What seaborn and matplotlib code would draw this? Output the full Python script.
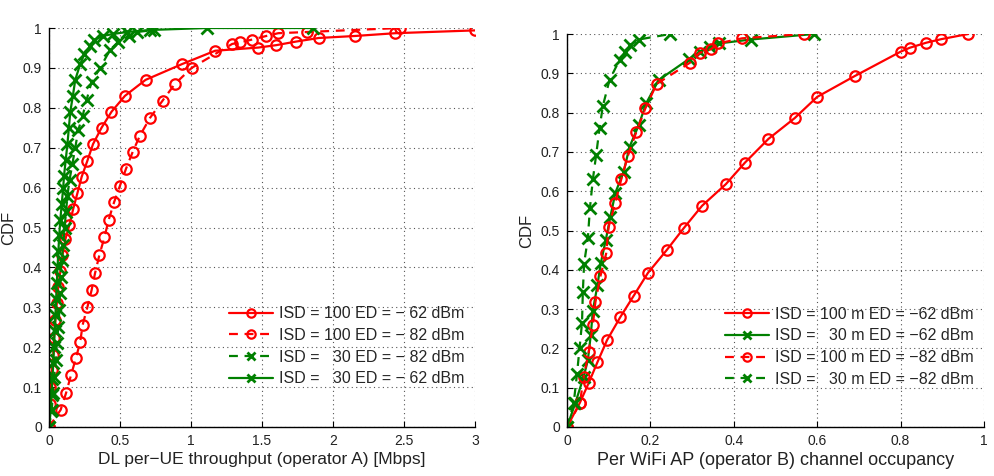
import matplotlib
matplotlib.use("Agg")
import matplotlib.pyplot as plt
import seaborn as sns
import pandas as pd

# ---------------- data: left panel (DL per-UE throughput, Mbps) ----------------
left_r62_x = [0, 0.005, 0.01, 0.02, 0.03, 0.035, 0.045, 0.055, 0.065, 0.08, 0.095, 0.115,
              0.143, 0.17, 0.20, 0.23, 0.27, 0.31, 0.37, 0.44, 0.535, 0.68, 0.94, 1.17,
              1.475, 1.60, 1.74, 1.90, 2.155, 2.44, 3.0]
left_r62_y = [0, 0.058, 0.10, 0.143, 0.18, 0.224, 0.267, 0.31, 0.35, 0.39, 0.43, 0.47,
              0.506, 0.546, 0.586, 0.627, 0.667, 0.709, 0.75, 0.79, 0.83, 0.87, 0.91, 0.943,
              0.951, 0.957, 0.966, 0.975, 0.98, 0.987, 0.994]

left_r82_x = [0, 0.082, 0.12, 0.155, 0.19, 0.22, 0.237, 0.27, 0.30, 0.324, 0.354, 0.39,
              0.42, 0.458, 0.50, 0.542, 0.59, 0.64, 0.71, 0.80, 0.887, 1.005, 1.29, 1.345,
              1.43, 1.53, 1.615, 1.82, 2.47]
left_r82_y = [0, 0.043, 0.085, 0.13, 0.173, 0.214, 0.256, 0.30, 0.343, 0.385, 0.43, 0.475,
              0.519, 0.563, 0.605, 0.647, 0.69, 0.73, 0.774, 0.818, 0.86, 0.90, 0.96, 0.964,
              0.971, 0.98, 0.987, 0.99, 1.0]

left_g82_x = [0, 0.02, 0.027, 0.035, 0.05, 0.054, 0.066, 0.073, 0.077, 0.082, 0.089, 0.10,
              0.11, 0.12, 0.13, 0.145, 0.165, 0.185, 0.206, 0.237, 0.265, 0.30, 0.36, 0.43,
              0.486, 0.56, 0.62, 0.74]
left_g82_y = [0, 0.043, 0.085, 0.126, 0.168, 0.21, 0.25, 0.293, 0.335, 0.377, 0.418, 0.456,
              0.50, 0.54, 0.58, 0.62, 0.66, 0.70, 0.744, 0.78, 0.82, 0.865, 0.90, 0.945,
              0.965, 0.98, 0.99, 0.995]

left_g62_x = [0, 0.012, 0.018, 0.024, 0.03, 0.035, 0.04, 0.045, 0.05, 0.055, 0.06, 0.066,
              0.072, 0.08, 0.09, 0.10, 0.106, 0.118, 0.13, 0.14, 0.15, 0.168, 0.185, 0.22,
              0.25, 0.29, 0.32, 0.38, 0.45, 0.55, 0.71, 1.11, 1.86]
left_g62_y = [0, 0.04, 0.08, 0.12, 0.16, 0.20, 0.24, 0.28, 0.32, 0.36, 0.40, 0.44,
              0.48, 0.52, 0.56, 0.60, 0.63, 0.67, 0.71, 0.75, 0.79, 0.83, 0.87, 0.91,
              0.935, 0.955, 0.97, 0.98, 0.985, 0.99, 0.995, 1.0, 1.0]

# ---------------- data: right panel (channel occupancy) ----------------
right_r62_x = [0, 0.031, 0.052, 0.073, 0.096, 0.128, 0.16, 0.194, 0.239, 0.28, 0.324, 0.381,
               0.427, 0.483, 0.546, 0.60, 0.69, 0.80, 0.822, 0.862, 0.898, 0.962]
right_r62_y = [0, 0.062, 0.112, 0.165, 0.221, 0.28, 0.334, 0.392, 0.45, 0.506, 0.563, 0.618,
               0.673, 0.733, 0.786, 0.84, 0.893, 0.955, 0.965, 0.978, 0.987, 1.0]

right_g62_x = [0, 0.02, 0.04, 0.05, 0.057, 0.062, 0.073, 0.081, 0.093, 0.104, 0.116, 0.136,
               0.15, 0.172, 0.19, 0.22, 0.292, 0.318, 0.342, 0.364, 0.441, 0.593]
right_g62_y = [0, 0.061, 0.128, 0.17, 0.234, 0.296, 0.361, 0.417, 0.476, 0.535, 0.596, 0.65,
               0.713, 0.768, 0.824, 0.883, 0.936, 0.955, 0.966, 0.976, 0.986, 1.0]

right_r82_x = [0, 0.031, 0.04, 0.052, 0.062, 0.068, 0.08, 0.094, 0.10, 0.116, 0.13, 0.146,
               0.166, 0.188, 0.215, 0.295, 0.318, 0.345, 0.362, 0.42, 0.569]
right_r82_y = [0, 0.06, 0.128, 0.19, 0.26, 0.317, 0.383, 0.442, 0.51, 0.571, 0.63, 0.69,
               0.75, 0.811, 0.873, 0.927, 0.952, 0.961, 0.976, 0.989, 1.0]

right_g82_x = [0, 0.016, 0.024, 0.03, 0.036, 0.038, 0.041, 0.05, 0.055, 0.062, 0.07, 0.078,
               0.086, 0.102, 0.126, 0.14, 0.152, 0.172, 0.248]
right_g82_y = [0, 0.06, 0.135, 0.20, 0.265, 0.344, 0.416, 0.48, 0.557, 0.63, 0.693, 0.76,
               0.817, 0.883, 0.934, 0.955, 0.972, 0.986, 1.0]

left_labels = ["ISD = 100 ED = \u2212 62 dBm", "ISD = 100 ED = \u2212 82 dBm",
               "ISD =   30 ED = \u2212 82 dBm", "ISD =   30 ED = \u2212 62 dBm"]
right_labels = ["ISD = 100 m ED = \u221262 dBm", "ISD =   30 m ED = \u221262 dBm",
                "ISD = 100 m ED = \u221282 dBm", "ISD =   30 m ED = \u221282 dBm"]

left_xticks = [0, 0.5, 1, 1.5, 2, 2.5, 3]
left_xticklabels = ["0", "0.5", "1", "1.5", "2", "2.5", "3"]
right_xticks = [0, 0.2, 0.4, 0.6, 0.8, 1]
right_xticklabels = ["0", "0.2", "0.4", "0.6", "0.8", "1"]
yticks = [0, 0.1, 0.2, 0.3, 0.4, 0.5, 0.6, 0.7, 0.8, 0.9, 1]
yticklabels = ["0", "0.1", "0.2", "0.3", "0.4", "0.5", "0.6", "0.7", "0.8", "0.9", "1"]

# ---------------- style ----------------
sns.set_style("white")
plt.rcParams["font.family"] = ["Liberation Sans", "DejaVu Sans"]
plt.rcParams["axes.unicode_minus"] = True

RED = "#ff0000"
GREEN = "#008000"

fig = plt.figure(figsize=(9.95, 4.76), dpi=100)
axL = fig.add_axes([49 / 995, 1 - 427 / 476, 426 / 995, 399 / 476])
axR = fig.add_axes([567 / 995, 1 - 427 / 476, 417 / 995, 393 / 476])


def draw(ax, x, y, color, marker, ls, label):
    df = pd.DataFrame({"x": x, "y": y})
    kw = dict(marker=marker, markersize=7.5 if marker == "o" else 8,
              markeredgewidth=1.6 if marker == "o" else 2.0,
              markeredgecolor=color,
              markerfacecolor="none" if marker == "o" else color)
    sns.lineplot(data=df, x="x", y="y", ax=ax, color=color, linestyle=ls,
                 linewidth=1.6, sort=False, estimator=None, label=label, **kw)


draw(axL, left_r62_x, left_r62_y, RED, "o", "-", left_labels[0])
draw(axL, left_r82_x, left_r82_y, RED, "o", (0, (4, 3)), left_labels[1])
draw(axL, left_g82_x, left_g82_y, GREEN, "x", (0, (4, 3)), left_labels[2])
draw(axL, left_g62_x, left_g62_y, GREEN, "x", "-", left_labels[3])

draw(axR, right_r62_x, right_r62_y, RED, "o", "-", right_labels[0])
draw(axR, right_g62_x, right_g62_y, GREEN, "x", "-", right_labels[1])
draw(axR, right_r82_x, right_r82_y, RED, "o", (0, (4, 3)), right_labels[2])
draw(axR, right_g82_x, right_g82_y, GREEN, "x", (0, (4, 3)), right_labels[3])


def style(ax, xlim, xticks, xticklabels, xlabel, xlabel_size, legend_anchor):
    ax.set_xlim(*xlim)
    ax.set_ylim(0, 1)
    ax.set_xticks(xticks)
    ax.set_xticklabels(xticklabels)
    ax.set_yticks(yticks)
    ax.set_yticklabels(yticklabels)
    ax.grid(True, color="#555555", linestyle=(0, (1, 3)), linewidth=0.8)
    for s in ["top", "right"]:
        ax.spines[s].set_visible(False)
    for s in ["left", "bottom"]:
        ax.spines[s].set_color("black")
        ax.spines[s].set_linewidth(1.0)
    ax.tick_params(direction="in", length=4, width=0.8, labelsize=10,
                   colors="black", labelcolor="#222222", bottom=True, left=True, pad=5)
    ax.set_xlabel(xlabel, fontsize=xlabel_size, color="#222222", labelpad=3)
    ax.set_ylabel("CDF", fontsize=12, color="#222222", labelpad=5)
    ax.legend(loc="lower right", bbox_to_anchor=legend_anchor, frameon=False,
              fontsize=11.5, handlelength=2.8, handletextpad=0.35, labelspacing=0.42,
              borderaxespad=0, borderpad=0, markerscale=0.8)


style(axL, (0, 3), left_xticks, left_xticklabels,
      "DL per\u2212UE throughput (operator A) [Mbps]", 12.5, (0.975, 0.102))
style(axR, (0, 1), right_xticks, right_xticklabels,
      "Per WiFi AP (operator B) channel occupancy", 13, (0.975, 0.102))

fig.savefig("out.png", dpi=100)
